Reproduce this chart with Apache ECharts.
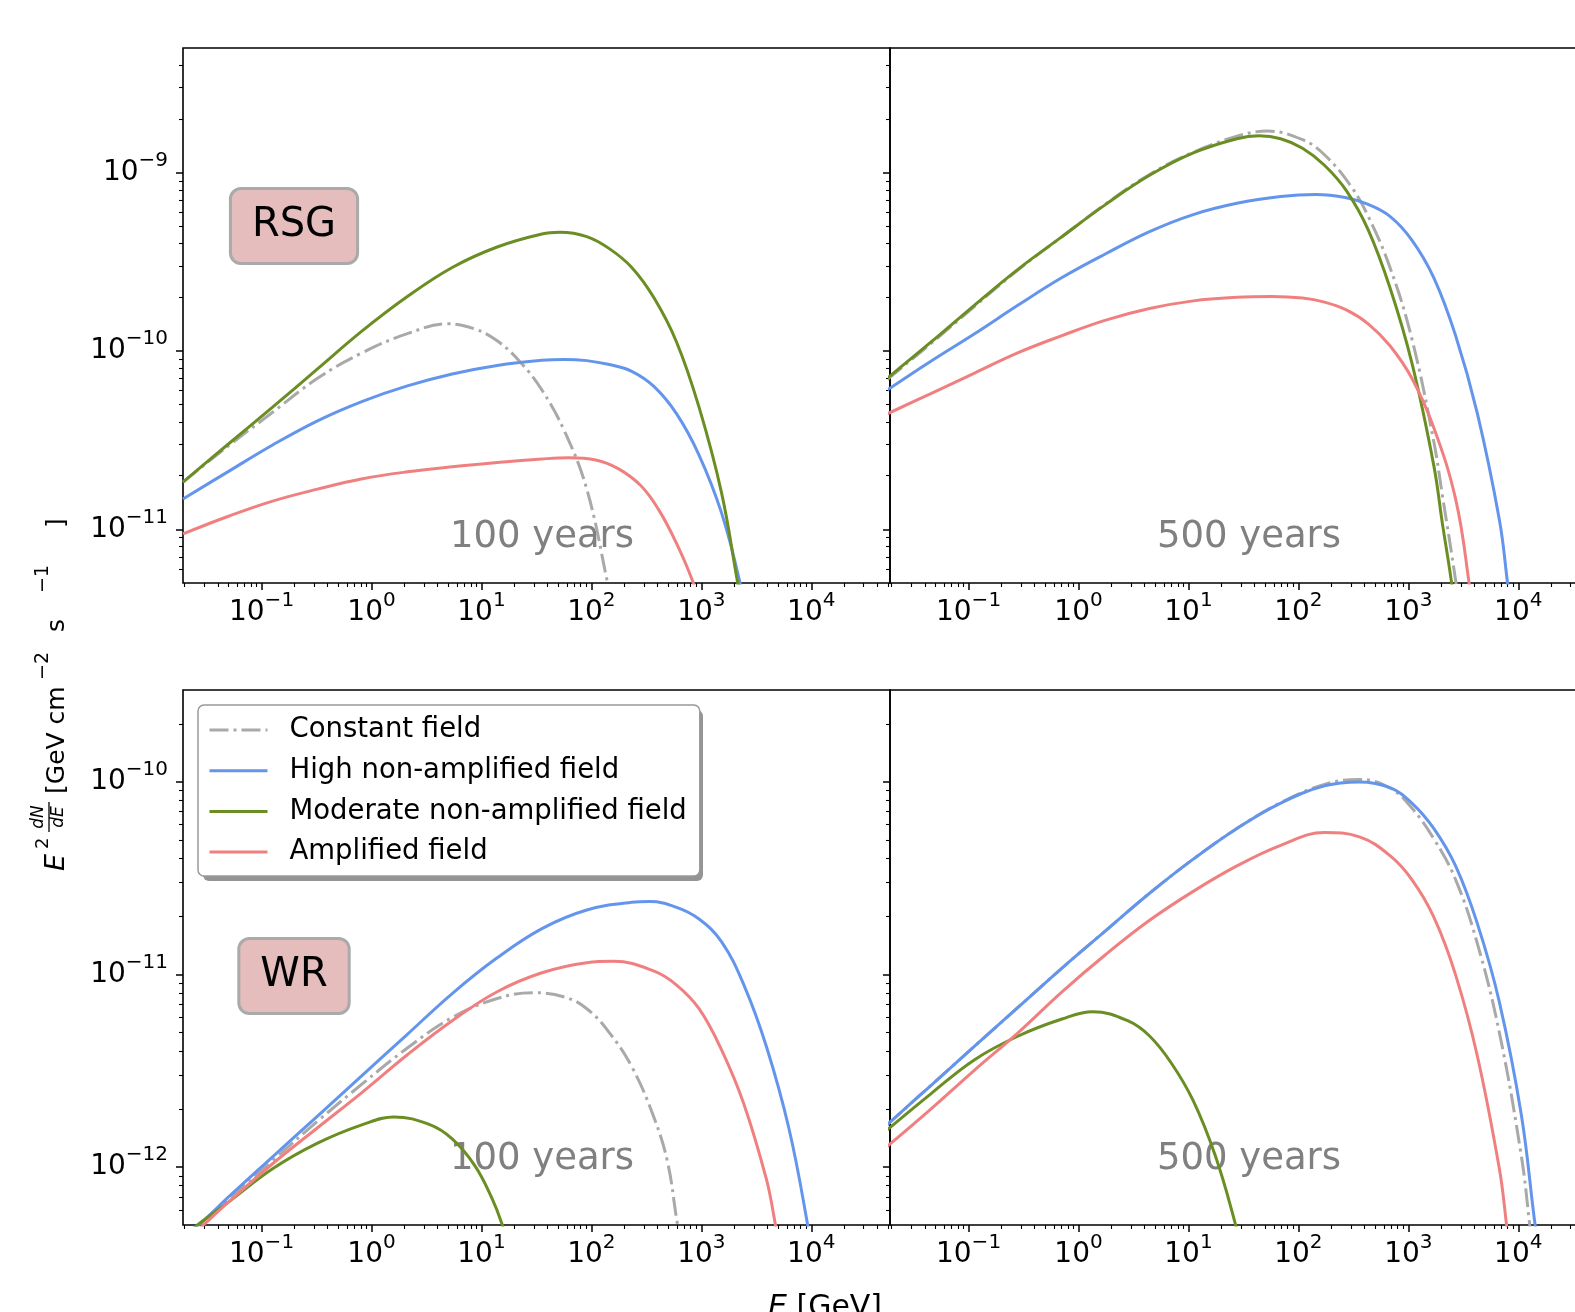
<!DOCTYPE html>
<html>
<head>
<meta charset="utf-8">
<script src="https://cdn.jsdelivr.net/npm/echarts@6/dist/echarts.min.js"></script>
<style>
    html, body { margin: 0; padding: 0; background: #fff; }
    #chart { width: 1575px; height: 1312px; }
</style>
</head>
<body>
<div id="chart"></div>
<script>
// E [GeV] and E^2 dN/dE [GeV cm^-2 s^-1]
var rsg100Constant = [[0.0193,1.84e-11],[0.0493,2.92e-11],[0.126,4.53e-11],[0.323,7.03e-11],[0.828,9.79e-11],[2.12,1.25e-10],[4.93,1.42e-10],[8.67,1.33e-10],[13.9,1.14e-10],[22.2,8.77e-11],[35.5,6.04e-11],[56.8,3.56e-11],[90.8,1.68e-11],[138.7,5.18e-12],[160,3.2e-12]];
var rsg100High = [[0.0193,1.48e-11],[0.0493,2.10e-11],[0.126,2.97e-11],[0.323,4.06e-11],[0.828,5.22e-11],[2.12,6.37e-11],[5.42,7.43e-11],[13.9,8.30e-11],[35.5,8.87e-11],[56.8,8.97e-11],[90.8,8.83e-11],[145.5,8.39e-11],[233,7.69e-11],[372,6.31e-11],[596,4.44e-11],[953,2.61e-11],[1524,1.24e-11],[2220,5.18e-12],[2440,3.5e-12]];
var rsg100Moderate = [[0.0193,1.84e-11],[0.0493,2.99e-11],[0.126,4.84e-11],[0.323,7.94e-11],[0.828,1.30e-10],[2.12,2.02e-10],[5.42,2.94e-10],[13.9,3.83e-10],[35.5,4.53e-10],[51.8,4.63e-10],[90.8,4.38e-10],[145.5,3.75e-10],[233,2.94e-10],[372,1.98e-10],[596,1.12e-10],[953,4.84e-11],[1524,1.61e-11],[2120,5.18e-12],[2440,3.2e-12]];
var rsg100Amplified = [[0.0193,9.42e-12],[0.0493,1.18e-11],[0.126,1.44e-11],[0.323,1.68e-11],[0.828,1.92e-11],[2.12,2.10e-11],[5.42,2.24e-11],[13.9,2.37e-11],[35.5,2.48e-11],[62.4,2.52e-11],[109.6,2.45e-11],[175.4,2.19e-11],[281,1.76e-11],[409,1.29e-11],[596,8.32e-12],[828,5.18e-12],[953,3.8e-12]];

var rsg500Constant = [[0.0182,6.92e-11],[0.0454,1.10e-10],[0.1135,1.78e-10],[0.283,2.85e-10],[0.708,4.37e-10],[1.77,6.68e-10],[4.43,9.77e-10],[11.05,1.30e-9],[27.6,1.60e-9],[52.5,1.71e-9],[109.1,1.53e-9],[172.6,1.26e-9],[298.5,8.45e-10],[431.5,5.69e-10],[681,2.94e-10],[1077,1.17e-10],[1702,3.12e-11],[2040,1.55e-11],[2690,5.18e-12],[2950,3.2e-12]];
var rsg500High = [[0.0182,6.04e-11],[0.0454,8.77e-11],[0.1135,1.25e-10],[0.283,1.81e-10],[0.708,2.58e-10],[1.77,3.51e-10],[4.43,4.67e-10],[11.05,5.82e-10],[27.6,6.73e-10],[69.0,7.35e-10],[143.6,7.55e-10],[272.9,7.24e-10],[431.5,6.64e-10],[681,5.69e-10],[1077,4.19e-10],[1702,2.58e-10],[2690,1.22e-10],[4253,4.44e-11],[6730,1.13e-11],[7930,5.18e-12],[8500,3.5e-12]];
var rsg500Moderate = [[0.0182,7.03e-11],[0.0454,1.12e-10],[0.1135,1.81e-10],[0.283,2.88e-10],[0.708,4.38e-10],[1.77,6.64e-10],[4.43,9.66e-10],[11.05,1.29e-9],[27.6,1.55e-9],[43.6,1.61e-9],[69.0,1.55e-9],[109.1,1.37e-9],[172.6,1.10e-9],[272.9,7.93e-10],[431.5,4.78e-10],[681,2.26e-10],[1077,8.57e-11],[1702,2.29e-11],[2040,1.08e-11],[2455,5.18e-12],[2690,3.2e-12]];
var rsg500Amplified = [[0.0182,4.44e-11],[0.0454,5.77e-11],[0.1135,7.52e-11],[0.283,9.79e-11],[0.708,1.22e-10],[1.77,1.49e-10],[4.43,1.73e-10],[11.05,1.91e-10],[27.6,2.00e-10],[57.4,2.02e-10],[109.1,1.98e-10],[172.6,1.88e-10],[272.9,1.70e-10],[431.5,1.42e-10],[681,1.07e-10],[1077,7.03e-11],[1702,3.72e-11],[2690,1.48e-11],[3540,5.18e-12],[3800,3.2e-12]];

var wr100Constant = [[0.0193,4.17e-13],[0.0308,5.37e-13],[0.0493,6.79e-13],[0.126,1.08e-12],[0.323,1.73e-12],[0.828,2.71e-12],[2.12,4.15e-12],[5.42,5.98e-12],[13.9,7.50e-12],[29.4,8.04e-12],[56.8,7.64e-12],[90.8,6.64e-12],[145.5,4.99e-12],[233,3.32e-12],[372,1.80e-12],[493,1.06e-12],[596,5.37e-13],[650,4.0e-13]];
var wr100High = [[0.0193,4.27e-13],[0.0308,5.37e-13],[0.0493,6.93e-13],[0.126,1.13e-12],[0.323,1.84e-12],[0.828,3.00e-12],[2.12,4.89e-12],[5.42,7.96e-12],[13.9,1.22e-11],[35.5,1.73e-11],[90.8,2.16e-11],[233,2.37e-11],[339,2.39e-11],[596,2.23e-11],[953,1.94e-11],[1524,1.48e-11],[2440,8.81e-12],[3900,4.24e-12],[6240,1.60e-12],[9070,5.37e-13],[10000,3.5e-13]];
var wr100Moderate = [[0.0193,4.37e-13],[0.0308,5.37e-13],[0.0493,6.53e-13],[0.126,9.79e-13],[0.323,1.33e-12],[0.828,1.66e-12],[1.60,1.82e-12],[3.39,1.66e-12],[5.42,1.40e-12],[8.67,1.02e-12],[12.3,7.0e-13],[15.3,5.1e-13],[17,4.0e-13]];
var wr100Amplified = [[0.0193,3.98e-13],[0.0339,5.37e-13],[0.0493,6.53e-13],[0.126,1.04e-12],[0.323,1.60e-12],[0.828,2.45e-12],[2.12,3.83e-12],[5.42,5.75e-12],[13.9,8.13e-12],[35.5,1.02e-11],[90.8,1.15e-11],[159.7,1.17e-11],[372,1.04e-11],[596,8.81e-12],[953,6.64e-12],[1524,4.07e-12],[2440,2.12e-12],[3900,8.67e-13],[4620,5.37e-13],[5000,4.0e-13]];

var wr500Constant = [[0.0182,1.66e-12],[0.0454,2.65e-12],[0.1135,4.24e-12],[0.283,6.76e-12],[0.708,1.08e-11],[1.77,1.69e-11],[4.43,2.64e-11],[11.05,3.97e-11],[27.6,5.73e-11],[69.0,7.80e-11],[172.6,9.70e-11],[358.9,1.03e-10],[681,9.29e-11],[1077,7.31e-11],[1702,5.07e-11],[2690,3.11e-11],[4253,1.44e-11],[6730,4.99e-12],[10640,1.15e-12],[12530,5.37e-13],[13500,3.5e-13]];
var wr500High = [[0.0182,1.66e-12],[0.0454,2.65e-12],[0.1135,4.24e-12],[0.283,6.76e-12],[0.708,1.08e-11],[1.77,1.69e-11],[4.43,2.64e-11],[11.05,3.97e-11],[27.6,5.73e-11],[69.0,7.76e-11],[172.6,9.53e-11],[358.9,1.00e-10],[681,9.33e-11],[1077,7.76e-11],[1702,5.73e-11],[2690,3.66e-11],[4253,1.83e-11],[6730,7.19e-12],[10640,1.88e-12],[14000,5.37e-13],[15500,3.5e-13]];
var wr500Moderate = [[0.0182,1.56e-12],[0.0454,2.40e-12],[0.1135,3.61e-12],[0.283,4.79e-12],[0.708,5.87e-12],[1.345,6.41e-12],[2.80,5.75e-12],[4.43,4.79e-12],[7.00,3.46e-12],[11.05,2.21e-12],[17.5,1.15e-12],[26,5.37e-13],[29,4.0e-13]];
var wr500Amplified = [[0.0182,1.28e-12],[0.0454,2.00e-12],[0.1135,3.19e-12],[0.283,4.99e-12],[0.708,8.13e-12],[1.77,1.27e-11],[4.43,1.91e-11],[11.05,2.70e-11],[27.6,3.66e-11],[69.0,4.68e-11],[172.6,5.46e-11],[358.9,5.18e-11],[681,4.14e-11],[1077,3.11e-11],[1702,1.99e-11],[2690,9.95e-12],[4253,3.75e-12],[6730,9.79e-13],[7710,5.37e-13],[8300,3.5e-13]];

var seriesNames = ['Constant field', 'High non-amplified field', 'Moderate non-amplified field', 'Amplified field'];
var xTickValues = [0.1, 1, 10, 100, 1000, 10000];
var yTickValuesTop = [1e-11, 1e-10, 1e-9];
var yTickValuesBottom = [1e-12, 1e-11, 1e-10];
var minorMantissas = [2, 3, 4, 5, 6, 7, 8, 9];

(function () {
    var FONT = 'DejaVu Sans';
    var colors = ['#a9a9a9', '#6495ed', '#6b8e23', '#f08080'];
    var xMin = 0.0193, xMax = 52000;

    var panels = [
        {grid: {left: 183, top: 48, width: 707, height: 535}, yMin: 5e-12, yMax: 5e-9, yTicks: yTickValuesTop, yLabels: true,
            data: [rsg100Constant, rsg100High, rsg100Moderate, rsg100Amplified]},
        {grid: {left: 890, top: 48, width: 707, height: 535}, yMin: 5e-12, yMax: 5e-9, yTicks: yTickValuesTop, yLabels: false,
            data: [rsg500Constant, rsg500High, rsg500Moderate, rsg500Amplified]},
        {grid: {left: 183, top: 690, width: 707, height: 535}, yMin: 5e-13, yMax: 3e-10, yTicks: yTickValuesBottom, yLabels: true,
            data: [wr100Constant, wr100High, wr100Moderate, wr100Amplified]},
        {grid: {left: 890, top: 690, width: 707, height: 535}, yMin: 5e-13, yMax: 3e-10, yTicks: yTickValuesBottom, yLabels: false,
            data: [wr500Constant, wr500High, wr500Moderate, wr500Amplified]}
    ];

    function minorTicks(lo, hi) {
        var out = [];
        for (var p = Math.floor(Math.log10(lo)); p <= Math.ceil(Math.log10(hi)); p++) {
            minorMantissas.forEach(function (m) {
                var v = m * Math.pow(10, p);
                if (v > lo && v < hi) out.push(v);
            });
        }
        return out;
    }

    function powLabel(v) {
        var e = Math.round(Math.log10(v));
        return '{b|10}{s|' + (e < 0 ? '\u2212' + (-e) : e) + '}';
    }

    var labelRich = {
        b: {fontSize: 28, fontFamily: FONT, color: '#000', lineHeight: 30},
        s: {fontSize: 20, fontFamily: FONT, color: '#000', lineHeight: 20, padding: [0, 0, 24, 0]}
    };

    var grids = [], xAxes = [], yAxes = [], series = [];
    var n = panels.length;

    panels.forEach(function (p, g) {
        grids.push({
            left: p.grid.left, top: p.grid.top, width: p.grid.width, height: p.grid.height,
            outerBoundsMode: 'none',
            show: true, borderColor: '#000', borderWidth: 1.6, backgroundColor: 'transparent'
        });
        // major axes carry the series
        xAxes[g] = {
            type: 'log', logBase: 10, gridIndex: g, position: 'bottom', min: xMin, max: xMax,
            axisLine: {show: false},
            axisTick: {show: true, length: 7, lineStyle: {color: '#000', width: 1.5}, customValues: xTickValues},
            axisLabel: {show: true, margin: 15, customValues: xTickValues, formatter: powLabel, rich: labelRich},
            splitLine: {show: false}
        };
        yAxes[g] = {
            type: 'log', logBase: 10, gridIndex: g, position: 'left', min: p.yMin, max: p.yMax,
            axisLine: {show: false},
            axisTick: {show: true, length: 7, lineStyle: {color: '#000', width: 1.5}, customValues: p.yTicks},
            axisLabel: {show: p.yLabels, margin: 15, customValues: p.yTicks, formatter: powLabel, rich: labelRich},
            splitLine: {show: false}
        };
        // minor tick axes, decoration only
        xAxes[n + g] = {
            type: 'log', logBase: 10, gridIndex: g, position: 'bottom', min: xMin, max: xMax,
            axisLine: {show: false}, axisLabel: {show: false}, splitLine: {show: false},
            axisTick: {show: true, length: 4, lineStyle: {color: '#000', width: 1.1}, customValues: minorTicks(xMin, xMax)}
        };
        yAxes[n + g] = {
            type: 'log', logBase: 10, gridIndex: g, position: 'left', min: p.yMin, max: p.yMax,
            axisLine: {show: false}, axisLabel: {show: false}, splitLine: {show: false},
            axisTick: {show: true, length: 4, lineStyle: {color: '#000', width: 1.1}, customValues: minorTicks(p.yMin, p.yMax)}
        };

        p.data.forEach(function (d, i) {
            series.push({
                name: seriesNames[i],
                type: 'line',
                xAxisIndex: g,
                yAxisIndex: g,
                data: d,
                symbol: 'none',
                showSymbol: false,
                smooth: 0.4,
                clip: true,
                silent: true,
                z: 3,
                itemStyle: {color: colors[i]},
                lineStyle: {color: colors[i], width: 3, type: i === 0 ? [19, 5, 3, 5] : 'solid'}
            });
        });
    });

    function tag(label, x, y) {
        return {
            type: 'text', x: x, y: y, z: 20,
            style: {
                text: label, fontSize: 40, fontFamily: FONT, fill: '#000',
                align: 'center', verticalAlign: 'middle',
                backgroundColor: '#e6bdbd', borderColor: '#aaaaaa', borderWidth: 3, borderRadius: 9,
                padding: [16, 20]
            }
        };
    }

    function ageText(label, x, y) {
        return {
            type: 'text', x: x, y: y, z: 1,
            style: {text: label, fontSize: 37, fontFamily: FONT, fill: '#808080', align: 'center', verticalAlign: 'middle'}
        };
    }

    function ytxt(t, x, y, size, opts) {
        var st = {text: t, fontSize: size, fontFamily: FONT, fill: '#000', align: 'left', verticalAlign: 'middle'};
        for (var k in opts) st[k] = opts[k];
        return {type: 'text', x: x, y: y, style: st};
    }

    var option = {
        backgroundColor: '#fff',
        animation: false,
        grid: grids,
        xAxis: xAxes,
        yAxis: yAxes,
        legend: {
            data: seriesNames,
            orient: 'vertical',
            left: 198,
            top: 705,
            z: 10,
            itemWidth: 58,
            itemHeight: 12,
            itemGap: 12.7,
            padding: [11, 13, 10, 10],
            selectedMode: false,
            backgroundColor: '#fff',
            borderColor: '#999',
            borderWidth: 1.5,
            borderRadius: 6,
            itemStyle: {opacity: 0},
            lineStyle: {width: 3},
            textStyle: {fontSize: 27.5, fontFamily: FONT, color: '#000', padding: [0, 0, 0, 17]}
        },
        graphic: [
            // legend drop shadow
            {type: 'rect', z: 5, shape: {x: 203, y: 710, width: 500, height: 171, r: 6}, style: {fill: 'rgba(0,0,0,0.42)'}},
            tag('RSG', 294, 226),
            tag('WR', 294, 976),
            ageText('100 years', 542, 537),
            ageText('500 years', 1249, 537),
            ageText('100 years', 542, 1159),
            ageText('500 years', 1249, 1159),
            {
                type: 'group', x: 57, y: 870, rotation: Math.PI / 2,
                children: [
                    ytxt('E', -1, 0, 27, {fontStyle: 'italic'}),
                    ytxt('2', 21, -14, 18, {}),
                    ytxt('dN', 53, -18, 17, {fontStyle: 'italic', align: 'center'}),
                    {type: 'line', shape: {x1: 38, y1: -8, x2: 68, y2: -8}, style: {stroke: '#000', lineWidth: 1.3}},
                    ytxt('dE', 53, 2, 17, {fontStyle: 'italic', align: 'center'}),
                    ytxt('[GeV cm', 76, 0, 25, {}),
                    ytxt('\u22122', 190, -14, 19, {}),
                    ytxt('s', 238, 0, 25, {}),
                    ytxt('\u22121', 277, -14, 19, {}),
                    ytxt(']', 342, 0, 25, {})
                ]
            },
            {
                type: 'text', x: 825, y: 1308,
                style: {
                    text: '{i|E} [GeV]', fontSize: 30, fontFamily: FONT, fill: '#000', align: 'center', verticalAlign: 'middle',
                    rich: {i: {fontSize: 30, fontFamily: FONT, fontStyle: 'italic'}}
                }
            }
        ],
        series: series
    };

    var myChart = echarts.init(document.getElementById('chart'));
    myChart.setOption(option);
})();
</script>
</body>
</html>
